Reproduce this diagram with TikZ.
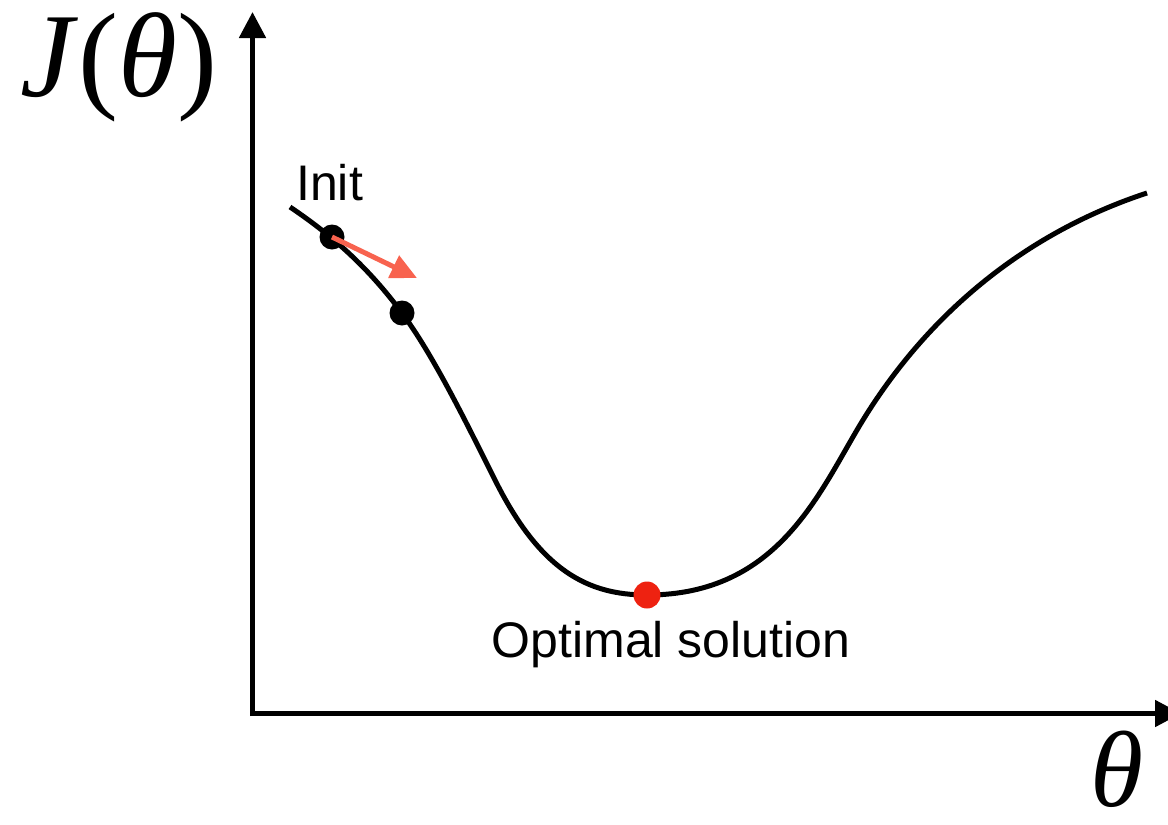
\documentclass[tikz,border=0pt]{standalone}
\usepackage{fontspec}
\setmainfont{Liberation Serif}
\newfontfamily\labelfont{Liberation Sans}
\usetikzlibrary{arrows.meta}
\definecolor{arrowred}{HTML}{F8634F}
\definecolor{optred}{HTML}{EE2211}
\tikzset{
  axisline/.style={line width=5pt, -{Triangle[length=26pt,width=26pt]}},
  curveline/.style={line width=5pt, line join=round},
  blackdot/.style={circle, fill=black, inner sep=0pt, minimum size=25pt},
  reddot/.style={circle, fill=optred, inner sep=0pt, minimum size=27pt},
  lbl/.style={font=\labelfont\fontsize{50}{56}\selectfont, inner sep=0pt},
  bigmath/.style={font=\fontsize{120}{130}\selectfont, inner sep=0pt},
  stepvec/.style={arrowred, line width=5pt, -{Triangle[length=26pt,width=24pt]}}
}
\begin{document}
\begin{tikzpicture}[x=1pt,y=-1pt]
\useasboundingbox (0,0) rectangle (1168,825);
% axes
\coordinate (origin) at (250,713.5);
\coordinate (ytop) at (252.5,12);
\coordinate (ybot) at (252.5,716);
\coordinate (xend) at (1181,713.5);
\draw[axisline] (ybot) -- (ytop);
\draw[axisline] (origin) -- (xend);
% curve
\coordinate (cA) at (290,207);
\coordinate (cB) at (402,313);
\coordinate (cC) at (495,480);
\coordinate (cD) at (647,595);
\coordinate (cE) at (863,420);
\coordinate (cF) at (1147,193);
\draw[curveline] (cA) .. controls (327,232) and (365,263) .. (cB)
  .. controls (433,355) and (464,418) .. (cC)
  .. controls (540,570) and (587,595) .. (cD)
  .. controls (780,595) and (820,490) .. (cE)
  .. controls (935,303) and (1037,229) .. (cF);
% points
\node[blackdot] (init) at (332,237) {};
\node[blackdot] (second) at (cB) {};
\node[reddot] (opt) at (cD) {};
\coordinate (steptip) at (417,278);
\draw[stepvec] (init.center) -- (steptip);
% labels
\node[lbl, anchor=base west] (initlbl) at (296,200) {Init};
\node[lbl, anchor=base] (optlbl) at (671,657) {Optimal solution};
\node[bigmath, anchor=base west] (ylbl) at (20,96) {\textit{J}(\textit{θ})};
\node[bigmath, anchor=base, font=\fontsize{108}{118}\selectfont] (xlbl) at (1117,806) {\textit{θ}};
\end{tikzpicture}
\end{document}
